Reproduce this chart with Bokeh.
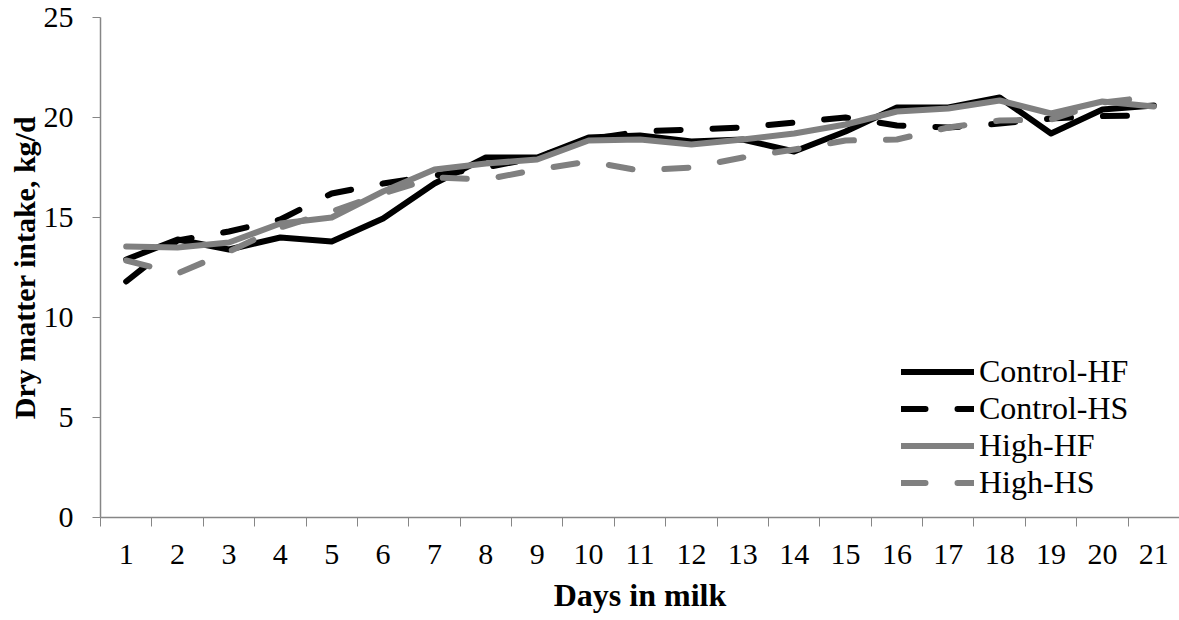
from bokeh.plotting import figure
from bokeh.models import Range1d, FixedTicker, Legend, LegendItem
from bokeh.embed import file_html
from bokeh.resources import INLINE

days = list(range(1, 22))
day_labels = [str(d) for d in days]
control_hf = [12.9, 13.9, 13.4, 14.0, 13.8, 14.95, 16.7, 18.0, 18.0, 19.0, 19.1,
              18.8, 18.9, 18.3, 19.3, 20.5, 20.5, 21.0, 19.2, 20.4, 20.6]
control_hs = [11.8, 13.85, 14.3, 14.9, 16.2, 16.7, 17.1, 17.5, 18.0, 18.9, 19.3,
              19.4, 19.5, 19.75, 20.0, 19.6, 19.5, 19.7, 19.95, 20.07, 20.1]
high_hf = [13.55, 13.5, 13.75, 14.7, 15.0, 16.3, 17.4, 17.7, 17.9, 18.85, 18.9,
           18.65, 18.9, 19.2, 19.65, 20.3, 20.45, 20.85, 20.2, 20.8, 20.55]
high_hs = [12.85, 12.2, 13.3, 14.5, 15.3, 16.2, 17.0, 16.9, 17.4, 17.8, 17.35,
           17.5, 18.0, 18.4, 18.85, 18.9, 19.5, 19.85, 19.9, 20.75, 21.05]
y_ticks = [0, 5, 10, 15, 20, 25]

FONT = "Liberation Serif"
AXIS_COLOR = "#868686"

p = figure(width=1179, height=620, output_backend="svg", toolbar_location=None,
           x_range=Range1d(0.5, 21.5), y_range=Range1d(0, 25),
           min_border_left=100, min_border_right=0, min_border_top=17,
           min_border_bottom=103)
p.outline_line_color = None
p.xgrid.visible = False
p.ygrid.visible = False
p.background_fill_color = "white"
p.border_fill_color = "white"

series = [
    ("Control-HF", control_hf, "#000000", "solid"),
    ("Control-HS", control_hs, "#000000", "24 32"),
    ("High-HF", high_hf, "#808080", "solid"),
    ("High-HS", high_hs, "#808080", "24 32"),
]
items = []
for name, vals, col, dash in series:
    r = p.line(days, vals, line_color=col, line_width=6, line_dash=dash,
               line_cap="round", line_join="round")
    items.append(LegendItem(label=name, renderers=[r]))

# x axis
boundaries = [d - 0.5 for d in days] + [days[-1] + 0.5]
p.xaxis.ticker = FixedTicker(ticks=days, minor_ticks=boundaries)
p.xaxis.major_label_overrides = {d: l for d, l in zip(days, day_labels)}
p.xaxis.major_tick_out = 0
p.xaxis.major_tick_in = 0
p.xaxis.minor_tick_out = 9
p.xaxis.minor_tick_in = 0
p.xaxis.minor_tick_line_color = AXIS_COLOR
p.xaxis.axis_line_color = AXIS_COLOR
p.xaxis.axis_line_width = 1.5
p.xaxis.major_label_text_font = FONT
p.xaxis.major_label_text_font_size = "30px"
p.xaxis.major_label_text_color = "black"
p.xaxis.major_label_standoff = 18
p.xaxis.axis_label = "Days in milk"
p.xaxis.axis_label_text_font = FONT
p.xaxis.axis_label_text_font_size = "32px"
p.xaxis.axis_label_text_font_style = "bold"
p.xaxis.axis_label_text_color = "black"
p.xaxis.axis_label_standoff = 10

# y axis
p.yaxis.ticker = FixedTicker(ticks=y_ticks)
p.yaxis.minor_tick_line_color = None
p.yaxis.major_tick_out = 8
p.yaxis.major_tick_in = 0
p.yaxis.major_tick_line_color = AXIS_COLOR
p.yaxis.axis_line_color = AXIS_COLOR
p.yaxis.axis_line_width = 1.5
p.yaxis.major_label_text_font = FONT
p.yaxis.major_label_text_font_size = "30px"
p.yaxis.major_label_text_color = "black"
p.yaxis.major_label_standoff = 19
p.yaxis.axis_label = "Dry matter intake, kg/d"
p.yaxis.axis_label_text_font = FONT
p.yaxis.axis_label_text_font_size = "30px"
p.yaxis.axis_label_text_font_style = "bold"
p.yaxis.axis_label_text_color = "black"
p.yaxis.axis_label_standoff = 0

legend = Legend(items=items, location=(801, 16), padding=0, margin=0,
                spacing=0, glyph_width=73, glyph_height=37, label_height=37,
                label_standoff=5, label_text_font=FONT,
                label_text_font_size="32px", label_text_color="black",
                border_line_color=None, background_fill_alpha=0)
p.add_layout(legend, "center")

open("out.html", "w").write(file_html(p, INLINE))
